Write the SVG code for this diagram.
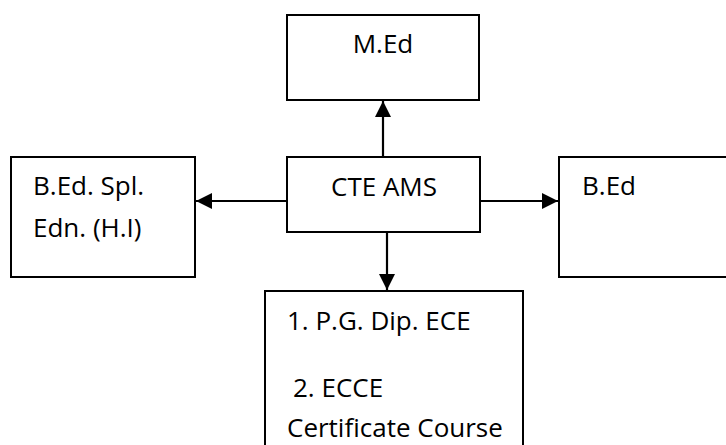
<svg xmlns="http://www.w3.org/2000/svg" width="726" height="445" viewBox="0 0 726 445">
<style>
.box{fill:#fff;stroke:#000;stroke-width:2}
.t{font-family:"Open Sans","Liberation Sans",sans-serif;font-size:26px;fill:#000}
.c{stroke:#000;stroke-width:2.2;fill:none;marker-end:url(#ah)}
</style>
<defs>
<marker id="ah" viewBox="0 0 10 10" refX="10" refY="5" markerWidth="16" markerHeight="16" markerUnits="userSpaceOnUse" orient="auto">
<path d="M0,0 L10,5 L0,10 z" fill="#000"/>
</marker>
</defs>
<rect width="726" height="445" fill="#fff"/>
<g id="connectors">
<line class="c" x1="383" y1="157" x2="383" y2="101"/>
<line class="c" x1="287" y1="201" x2="196" y2="201"/>
<line class="c" x1="480" y1="201" x2="558" y2="201"/>
<line class="c" x1="387" y1="232" x2="387" y2="290"/>
</g>
<g id="med">
<rect class="box" x="287" y="15" width="192" height="85"/>
<text class="t" x="383" y="53" text-anchor="middle">M.Ed</text>
</g>
<g id="cte">
<rect class="box" x="287" y="157" width="193" height="75"/>
<text class="t" x="331" y="196">CTE AMS</text>
</g>
<g id="bedspl">
<rect class="box" x="11" y="157" width="184" height="120"/>
<text class="t" x="33" y="195">B.Ed. Spl.</text>
<text class="t" x="33" y="237">Edn. (H.I)</text>
</g>
<g id="bed">
<rect class="box" x="559" y="157" width="180" height="120"/>
<text class="t" x="582" y="195">B.Ed</text>
</g>
<g id="pgdip">
<rect class="box" x="265" y="291" width="258" height="170"/>
<text class="t" x="287" y="330">1. P.G. Dip. ECE</text>
<text class="t" x="293" y="397">2. ECCE</text>
<text class="t" x="287" y="437">Certificate Course</text>
</g>
</svg>
